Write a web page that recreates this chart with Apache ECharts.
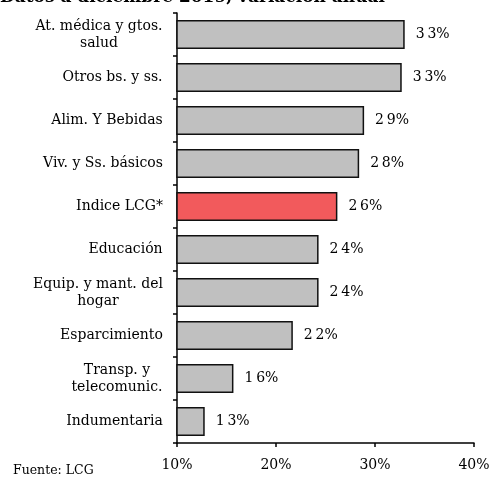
<!DOCTYPE html>
<html><head><meta charset="utf-8">
<script src="https://cdn.jsdelivr.net/npm/echarts@6/dist/echarts.min.js"></script>
<style>html,body{margin:0;padding:0;background:#fff}#c{width:496px;height:479px}</style>
</head><body><div id="c"></div>
<script>
var titleText = 'Datos a diciembre 2019, variación anual';
var sourceText = 'Fuente: LCG';
var categories = ['At. médica y gtos.\nsalud','Otros bs. y ss.','Alim. Y Bebidas','Viv. y Ss. básicos','Indice LCG*','Educación','Equip. y mant. del\nhogar','Esparcimiento','Transp. y\ntelecomunic.','Indumentaria'];
var values = [33.0, 32.7, 28.9, 28.4, 26.2, 24.3, 24.3, 21.7, 15.7, 12.8];
var highlight = 'Indice LCG*';
var xTicks = [10, 20, 30, 40];

var FONT = 'DejaVu Serif';
var LSIZE = 14;
var cv = document.createElement('canvas').getContext('2d');
cv.font = LSIZE + 'px "' + FONT + '"';
var rich = {};
var labelMap = {};
categories.forEach(function(c, i){
  var lines = c.split('\n');
  var w = Math.max.apply(null, lines.map(function(l){return cv.measureText(l).width;}));
  rich['l'+i] = {width: Math.ceil(w), align: 'center', fontFamily: FONT, fontSize: LSIZE, color: '#000', lineHeight: 17};
  labelMap[c] = lines.map(function(l){return '{l'+i+'|'+l+'}';}).join('\n');
});

var chart = echarts.init(document.getElementById('c'));
chart.setOption({
  animation: false,
  title: [{text: titleText, left: 0, top: -11, padding: 0, textStyle: {fontFamily: FONT, fontSize: 17, fontWeight: 'bold', color: '#000'}},
          {text: sourceText, left: 13, top: 464, padding: 0, textStyle: {fontFamily: FONT, fontSize: 12.5, fontWeight: 'normal', color: '#000'}}],
  grid: {left: 177, right: 22, top: 13, bottom: 36, containLabel: false},
  xAxis: {type: 'value', min: xTicks[0], max: xTicks[xTicks.length-1], interval: 10,
    axisLine: {show: true, lineStyle: {color: '#000', width: 1.5}},
    axisTick: {show: true, length: 4, lineStyle: {color: '#000', width: 1.5}},
    splitLine: {show: false},
    axisLabel: {formatter: '{value}%', margin: 15, fontFamily: FONT, fontSize: 14, color: '#000'}},
  yAxis: {type: 'category', data: categories, inverse: true,
    axisLine: {show: true, lineStyle: {color: '#000', width: 1.5}},
    axisTick: {show: true, length: 4, lineStyle: {color: '#000', width: 1.5}},
    axisLabel: {margin: 14, formatter: function(v){return labelMap[v];}, rich: rich, fontFamily: FONT, fontSize: LSIZE, color: '#000'}},
  series: [{type: 'bar', barCategoryGap: '33%',
    data: values.map(function(v, i){
      var hi = categories[i] === highlight;
      return {value: v, itemStyle: {color: hi ? '#F25A5C' : '#C0C0C0', borderColor: '#111', borderWidth: 1.5}};
    }),
    label: {show: true, position: 'right', distance: 11, fontFamily: FONT, fontSize: 14, color: '#000',
      formatter: function(p){ return String(Math.round(p.value)).split('').join('\u2009') + '%'; }}
  }]
});
</script></body></html>
